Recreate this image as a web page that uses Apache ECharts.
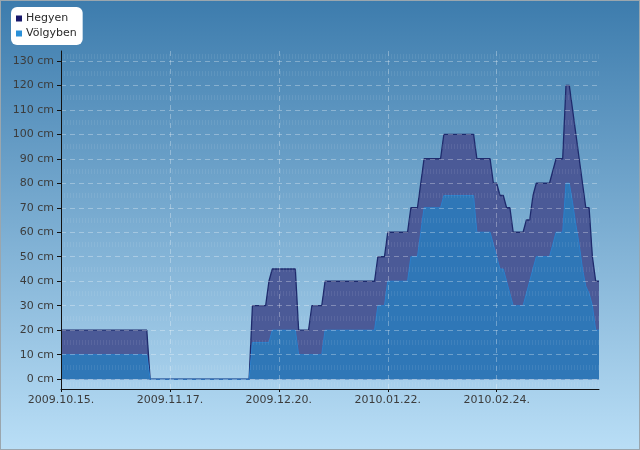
<!DOCTYPE html>
<html>
<head>
<meta charset="utf-8">
<script src="https://cdn.jsdelivr.net/npm/echarts@6/dist/echarts.min.js"></script>
<style>
html,body{margin:0;padding:0;}
#chart{width:640px;height:450px;box-sizing:border-box;border:1px solid #9aa6ae;}
</style>
</head>
<body>
<div id="chart"></div>
<script>
// ---- data ----
const startDate = [2009, 10, 15];
const dayCount = 164;
const seriesNames = ['Hegyen', 'Völgyben'];
const hegyen = [
  20,20,20,20,20,20,20,20,20,20,20,20,20,20,20,20,20,20,20,20,20,20,20,20,20,20,20,
  0,0,0,0,0,0,0,0,0,0,0,0,0,0,0,0,0,0,0,0,0,0,0,0,0,0,0,0,0,0,0,
  30,30,30,30,30,
  40,
  45,45,45,45,45,45,45,45,
  20,20,20,20,
  30,30,30,30,
  40,40,40,40,40,40,40,40,40,40,40,40,40,40,40,40,
  50,50,50,
  60,60,60,60,60,60,60,
  70,70,70,
  80,
  90,90,90,90,90,90,
  100,100,100,100,100,100,100,100,100,100,
  90,90,90,90,90,
  80,80,
  75,75,
  70,70,
  60,60,60,60,
  65,65,
  75,
  80,80,80,80,80,
  85,
  90,90,90,
  120,120,
  110,100,90,80,70,70,50,40,40
];
const volgyben = [
  10,10,10,10,10,10,10,10,10,10,10,10,10,10,10,10,10,10,10,10,10,10,10,10,10,10,10,
  0,0,0,0,0,0,0,0,0,0,0,0,0,0,0,0,0,0,0,0,0,0,0,0,0,0,0,0,0,0,0,
  15,15,15,15,15,15,
  20,20,20,20,20,20,20,20,
  10,10,10,10,10,10,10,10,
  20,20,20,20,20,20,20,20,20,20,20,20,20,20,20,20,
  30,30,30,
  40,40,40,40,40,40,40,
  50,50,50,
  60,
  70,70,70,70,70,70,
  75,75,75,75,75,75,75,75,75,75,
  60,60,60,60,60,
  55,50,
  45,45,
  40,
  35,
  30,30,30,30,
  35,40,45,
  50,50,50,50,50,
  55,
  60,60,60,
  80,80,
  72,63,55,45,38,35,30,20,20
];
const yTickValues = [0,10,20,30,40,50,60,70,80,90,100,110,120,130];
const patternRows = [-2,5,15,25,35,45,55,65,75,85,95,105,115,125,132];

// category labels (consecutive days)
function pad(n){return (n<10?'0':'')+n;}
const categories = [];
for (let i = 0; i < dayCount; i++) {
  const d = new Date(Date.UTC(startDate[0], startDate[1]-1, startDate[2] + i));
  categories.push(d.getUTCFullYear() + '.' + pad(d.getUTCMonth()+1) + '.' + pad(d.getUTCDate()) + '.');
}

const font = 'DejaVu Sans';
const chart = echarts.init(document.getElementById('chart'), null, {renderer: 'canvas'});
chart.setOption({
  animation: false,
  backgroundColor: {
    type: 'linear', x: 0, y: 0, x2: 0, y2: 1,
    colorStops: [{offset: 0, color: '#3d7cad'}, {offset: 1, color: '#b9def6'}]
  },
  textStyle: {fontFamily: font},
  legend: {
    orient: 'vertical', left: 10, top: 6,
    backgroundColor: '#ffffff', borderRadius: 6,
    padding: [6, 6, 6, 5], itemGap: 4, itemWidth: 6, itemHeight: 6,
    icon: 'rect',
    textStyle: {fontFamily: font, fontSize: 11, color: '#2a2a2a', padding: [0,0,0,-1]},
    data: seriesNames
  },
  grid: {left: 60, right: 40, top: 50, bottom: 60, containLabel: false},
  xAxis: {
    type: 'category', data: categories, boundaryGap: false, z: 5,
    axisLine: {onZero: false, lineStyle: {color: '#111', width: 1}},
    axisTick: {interval: 32, length: 3, lineStyle: {color: '#111'}},
    axisLabel: {interval: 32, margin: 6, fontSize: 11, color: '#3c3c3c', fontFamily: font},
    splitLine: {show: true, interval: 32, lineStyle: {color: 'rgba(255,255,255,0.3)', type: [5, 4], width: 1}}
  },
  yAxis: [{
    type: 'value', min: -4, max: 134, z: 5,
    axisLine: {show: true, lineStyle: {color: '#111', width: 1}},
    axisTick: {show: true, length: 4, customValues: yTickValues, lineStyle: {color: '#111'}},
    axisLabel: {customValues: yTickValues, margin: 7, fontSize: 11, color: '#3c3c3c', fontFamily: font,
      formatter: function (v) { return v + ' cm'; }},
    splitLine: {show: true, lineStyle: {color: 'rgba(255,255,255,0.3)', type: [5, 4], width: 1}}
  }, {
    type: 'value', min: -4, max: 134, z: 4, position: 'left',
    axisLine: {show: false},
    axisTick: {show: false, customValues: patternRows},
    axisLabel: {show: false, customValues: patternRows},
    splitLine: {show: true, lineStyle: {color: 'rgba(255,255,255,0.08)', type: [1, 2], width: 5}}
  }],
  series: [{
    name: seriesNames[0], type: 'line', data: hegyen, z: 2,
    showSymbol: false, symbol: 'none', silent: true,
    itemStyle: {color: '#17176a'},
    lineStyle: {color: '#1e2a6c', width: 1.3},
    areaStyle: {color: '#4b5a97', opacity: 1}
  }, {
    name: seriesNames[1], type: 'line', data: volgyben, z: 3,
    showSymbol: false, symbol: 'none', silent: true,
    itemStyle: {color: '#2a90d8'},
    lineStyle: {color: '#2a80cc', width: 1},
    areaStyle: {color: '#2f77b7', opacity: 1}
  }]
});
</script>
</body>
</html>
